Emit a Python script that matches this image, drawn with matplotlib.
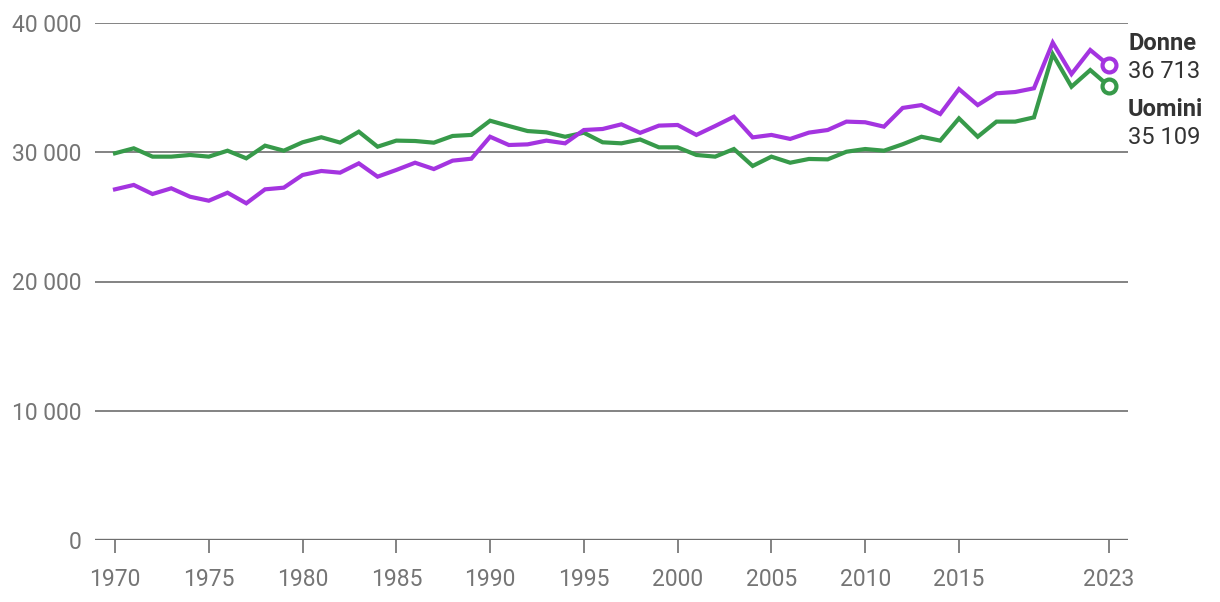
import matplotlib
matplotlib.use("Agg")
import matplotlib.pyplot as plt
from matplotlib.ticker import FuncFormatter

years = list(range(1970, 2024))
donne = [27130, 27470, 26770, 27210, 26560, 26250, 26870, 26050, 27130, 27260,
         28240, 28550, 28420, 29140, 28110, 28630, 29190, 28700, 29350, 29500,
         31200, 30560, 30610, 30900, 30690, 31720, 31800, 32160, 31500, 32060,
         32110, 31340, 32030, 32750, 31150, 31340, 31030, 31520, 31720, 32370,
         32320, 31980, 33430, 33650, 32960, 34890, 33650, 34560, 34660, 34950,
         38480, 36050, 37910, 36713]
uomini = [29920, 30305, 29660, 29660, 29790, 29660, 30120, 29530, 30510, 30120,
          30770, 31160, 30750, 31590, 30430, 30900, 30870, 30740, 31260, 31340,
          32440, 32030, 31640, 31540, 31200, 31510, 30770, 30690, 30990, 30380,
          30380, 29790, 29660, 30250, 28940, 29660, 29190, 29480, 29450, 30040,
          30250, 30120, 30620, 31200, 30900, 32620, 31200, 32370, 32370, 32700,
          37580, 35070, 36360, 35109]
xticks = [1970, 1975, 1980, 1985, 1990, 1995, 2000, 2005, 2010, 2015, 2023]
yticks = [0, 10000, 20000, 30000, 40000]
labels = ["Donne", "Uomini"]

purple = "#A434E0"
green = "#379A4A"
grey = "#757575"
dark = "#333333"

plt.rcParams['font.family'] = ['Roboto', 'DejaVu Sans']

fig = plt.figure(figsize=(12.2, 6.02), dpi=100)
ax = fig.add_axes([95/1220, 1-540/602, (1128-95)/1220, (540-23)/602])

for v in yticks[1:]:
    ax.axhline(v, color="#7a7a7a", lw=1.3, zorder=1)
ax.axhline(0, color="#6e6e6e", lw=2.4, zorder=1)

ax.plot(years, uomini, color=green, lw=3, zorder=3, solid_joinstyle='miter', clip_on=False)
ax.plot(years, donne, color=purple, lw=3, zorder=4, solid_joinstyle='miter', clip_on=False)
ax.plot([years[-1]], [uomini[-1]], 'o', ms=10, mfc='white', mec=green, mew=3, zorder=5, clip_on=False)
ax.plot([years[-1]], [donne[-1]], 'o', ms=10, mfc='white', mec=purple, mew=3, zorder=5, clip_on=False)

ax.set_xlim(1970 - 20/18.755, 2023 + 19/18.755)
ax.set_ylim(0, 40000)
for s in ax.spines.values():
    s.set_visible(False)

ax.set_xticks(xticks)
ax.set_xticklabels([str(x) for x in xticks])
ax.set_yticks(yticks)
ax.yaxis.set_major_formatter(FuncFormatter(lambda v, p: f"{int(v):,}".replace(",", " ")))
ax.tick_params(axis='x', length=9, width=1.3, color="#7a7a7a", labelsize=16.5, labelcolor=grey, pad=11)
ax.tick_params(axis='y', length=0, labelsize=16.5, labelcolor=grey, pad=9.5)

fs = 17
fig.text(1128/1220, 1-43/602, labels[0], fontsize=fs, fontweight='bold', color=dark, va='center', ha='left')
fig.text(1128/1220, 1-72/602, f"{donne[-1]:,}".replace(",", " "), fontsize=fs, color=dark, va='center', ha='left')
fig.text(1128/1220, 1-110/602, labels[1], fontsize=fs, fontweight='bold', color=dark, va='center', ha='left')
fig.text(1128/1220, 1-137/602, f"{uomini[-1]:,}".replace(",", " "), fontsize=fs, color=dark, va='center', ha='left')

fig.savefig("out.png", dpi=100)
